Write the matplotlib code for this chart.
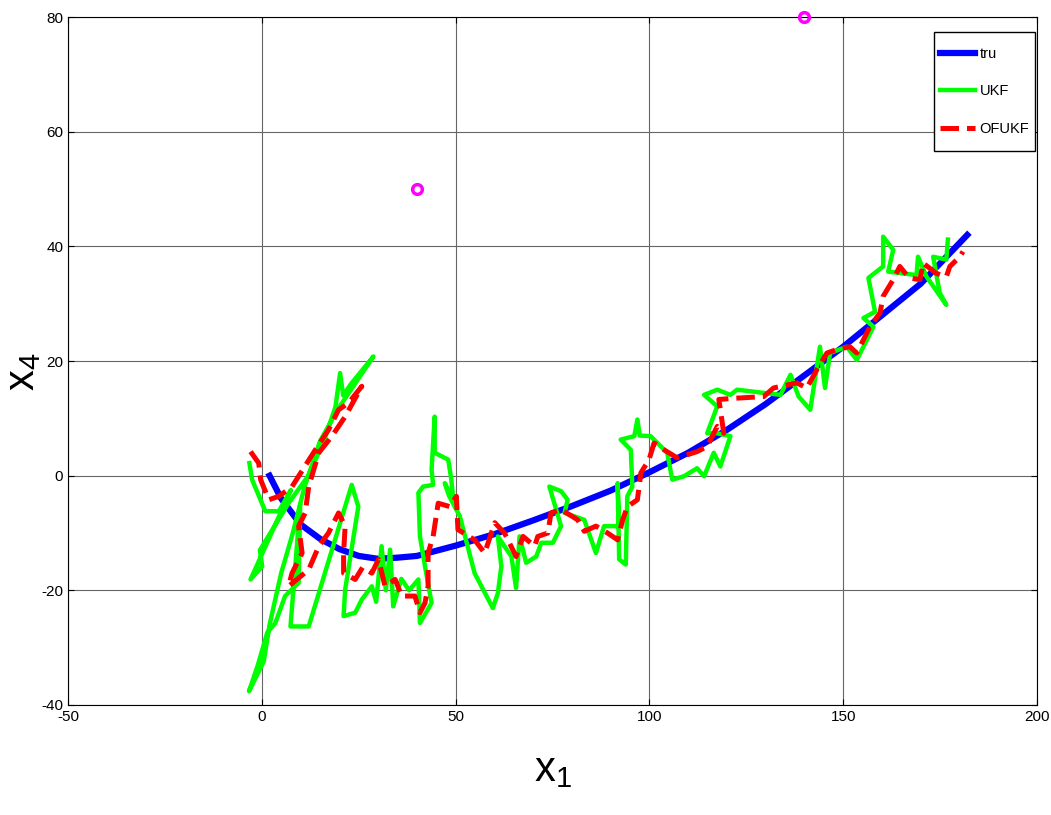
import numpy as np
import matplotlib.pyplot as plt
from matplotlib.patches import Rectangle

# true trajectory
tru_x = [2, 5, 10, 15, 20, 25, 30, 35, 40, 50, 60, 70, 80, 90, 100, 110, 120, 130, 140, 150, 160, 170, 182]
tru_y = [0, -4, -8.5, -11, -12.8, -14, -14.5, -14.3, -14, -12.2, -10.2, -7.8, -5.3, -2.6, 0.6, 4, 8, 12.5, 17.5, 22.5, 28, 33.5, 42]

# UKF estimate
ukf = [(-3.2, 2.2), (-2.5, -0.7), (0.9, -6.2), (4.4, -6.2), (7.5, -2.5), (-2.9, -18.1), (0.1, -15.8),
       (-0.5, -13), (6.9, -4.8), (12, 0), (16, 6), (19, 12), (20.2, 17.9), (21, 14), (23, 16), (28.8, 20.8),
       (24, 16), (20, 12), (15, 6), (11, -2), (8, -10), (5, -17), (2, -26), (0.5, -32.4), (-3.3, -37.6),
       (-1, -33), (1.4, -27.4), (3.5, -25.7), (6, -21), (9.5, -18.7), (9.9, -5), (7.4, -26.3), (12.1, -26.3),
       (23.2, -1.6), (24.9, -5.4), (21.5, -19.9), (21.1, -24.5), (24.1, -23.9), (25.8, -21.6), (28.4, -19.3),
       (29.5, -22), (30.9, -12.3), (32, -20), (33.1, -12.9), (33.9, -22.8), (36, -18), (38, -20), (40.4, -18.1),
       (40.8, -25.7), (43.8, -22.2), (42.1, -15.8), (40.8, -10.6), (40.4, -3), (41.6, -1.9), (44.2, -1.6),
       (43.8, 1), (44.6, 10.3), (44.6, 4), (48.1, 2.8), (48.9, -0.7), (49.4, -4.2), (47.2, -1.3), (48.3, -3.5),
       (51.1, -7.1), (54.9, -17), (59.6, -23.1), (60.9, -20.5), (61.8, -15.8), (60.9, -10.6), (64.4, -14.1),
       (65.6, -19.6), (66.5, -10.6), (68.2, -15.2), (70.8, -14.1), (72.1, -11.7), (75.1, -11.7), (77.2, -8.8),
       (74.2, -1.9), (77.2, -2.7), (78.9, -4.2), (78.1, -6.5), (83.2, -7.7), (86.2, -13.5), (88.3, -8.8),
       (92.2, -8.8), (91.8, -1.3), (92.2, -14.6), (93.9, -15.5), (94.3, -3.6), (95.6, -1.9), (95.2, 4.5),
       (92.6, 6.3), (96.1, 6.9), (96.9, 9.8), (97.5, 7), (100.3, 6.9), (104.6, 4), (105.9, -0.7), (108.9, -0.1),
       (112.3, 1.3), (114.1, -0.1), (116.6, 4), (118.3, 1.6), (120.9, 6.9), (117.5, 7.4), (114.9, 7.4),
       (117.5, 12.1), (114.1, 14.1), (117.5, 15), (120.9, 14.1), (122.6, 15), (133.8, 14.1), (136.4, 17.6),
       (138.5, 13.8), (141.5, 11.5), (144, 22.5), (145.3, 15.3), (146.6, 21.4), (150.9, 22.5), (153.5, 20.2),
       (155.2, 22.5), (157.8, 26), (155.2, 27.5), (158.2, 28.6), (156.5, 34.5), (160.3, 36.5), (160.3, 41.7),
       (162.9, 39.4), (161.6, 35.6), (168.9, 35), (169.3, 38.2), (171.5, 34.7), (176.6, 29.8), (174.9, 31.9),
       (173.2, 38.2), (176.6, 37.7), (177, 41.2)]

# OFUKF estimate
ofukf = [(-2.9, 4.2), (-0.8, 2.2), (-0.3, -0.7), (1.8, -4.2), (4.4, -3.6), (7.8, -1.9), (13.8, 4.5), (17.2, 8),
         (19.8, 11.5), (22.4, 12.7), (25.8, 15.6), (21.5, 10.3), (18.1, 6.9), (14.7, 4), (12.1, -1.9),
         (11.2, -6.5), (9.5, -8.8), (10.4, -13.5), (7.8, -17), (6.9, -19.3), (12.1, -16.4), (14.7, -12.3),
         (17.2, -10), (19.8, -6.5), (21.5, -8.8), (21.1, -13.5), (21.1, -17), (24.1, -18.1), (26, -16),
         (28.4, -17), (30.1, -14.6), (31.8, -19.3), (34.4, -18.1), (36.1, -21), (39.5, -21), (40.8, -23.9),
         (42.1, -22.2), (42.9, -19.3), (42.9, -13.5), (44.2, -10.6), (45.5, -4.8), (48.5, -5.4), (50.2, -3.6),
         (50.6, -9.4), (54.9, -11.2), (57.5, -13.5), (60.1, -8.2), (62.6, -10), (64.3, -12.3), (65.6, -14.1),
         (67.4, -10.6), (70.4, -12.3), (71.2, -10.6), (73.8, -10), (74.6, -6.5), (77.2, -5.9), (81.5, -7.7),
         (83.2, -9.7), (86.2, -8.8), (89.2, -10), (91.8, -11.2), (93.1, -7.7), (94.3, -5.4), (96.9, -4.2),
         (97.8, 0.5), (99.9, 2.8), (101.2, 5.7), (102, 5.4), (103.8, 4.5), (107.2, 3.1), (112.3, 4.2),
         (114.9, 5.1), (117.5, 8.6), (119.2, 7.4), (118.3, 11.5), (117.9, 13.3), (121.8, 13.5), (129.5, 13.8),
         (132, 15.3), (138, 16.2), (140.6, 15.3), (143.2, 18.5), (145.8, 21.4), (148.3, 22), (151.7, 22.5),
         (153.5, 21.4), (156.9, 26), (159.5, 28.4), (160.3, 31.3), (162.9, 34.2), (164.6, 36.5), (167, 34.5),
         (169.8, 34.2), (170.6, 37.1), (174, 35.3), (176.6, 34.7), (177.5, 36.5), (180.1, 38.2), (180.9, 39.1)]

# landmarks
mark_x = [40, 140]
mark_y = [50, 80]

xticks = [-50, 0, 50, 100, 150, 200]
yticks = [-40, -20, 0, 20, 40, 60, 80]

plt.rcParams['font.family'] = ['Liberation Sans Narrow', 'Liberation Sans', 'DejaVu Sans']
plt.rcParams['axes.unicode_minus'] = False

fig = plt.figure(figsize=(10.51, 8.15), dpi=100)
ax = fig.add_axes([0.0647, 0.135, 0.922, 0.844])

ax.plot(tru_x, tru_y, color='#0000ff', lw=4.5, label='tru', zorder=3)
ux, uy = zip(*ukf)
ax.plot(ux, uy, color='#00ff00', lw=3.2, label='UKF', zorder=4)
ox, oy = zip(*ofukf)
ax.plot(ox, oy, color='#ff0000', lw=3.6, ls='--', label='OFUKF', zorder=5)
ax.plot(mark_x, mark_y, 'o', color='#ff00ff', mfc='none', mew=2.5, ms=7, zorder=6, clip_on=False)

ax.set_xlim(-50, 200)
ax.set_ylim(-40, 80)
ax.set_xticks(xticks)
ax.set_yticks(yticks)
ax.tick_params(direction='in', top=True, right=True, labelsize=11, length=4)
ax.grid(True, color='#666666', lw=0.8)
ax.set_axisbelow(True)

ax.set_xlabel('$\\mathregular{x_1}$', fontsize=30)
ax.xaxis.set_label_coords(0.5, -0.066)
ax.set_ylabel('$\\mathregular{x_4}$', fontsize=30)
ax.yaxis.set_label_coords(-0.026, 0.484)

leg = ax.legend(loc='upper right', bbox_to_anchor=(0.998, 0.965), fontsize=10.5, frameon=False,
                handlelength=2.4, handletextpad=0.3, borderpad=0.4, labelspacing=1.6, borderaxespad=0)
leg.set_zorder(10)

# MATLAB-style legend box: taller padding top/bottom than at the sides
fig.canvas.draw()
bb = leg.get_window_extent()
W, H = fig.bbox.width, fig.bbox.height
pad_v = 9
box = Rectangle((bb.x0 / W, (bb.y0 - pad_v) / H), bb.width / W, (bb.height + 2 * pad_v) / H,
                transform=fig.transFigure, facecolor='white', edgecolor='black', lw=1.0, zorder=9)
ax.add_artist(box)
box.set_clip_on(False)

fig.savefig('out.png', dpi=100)
